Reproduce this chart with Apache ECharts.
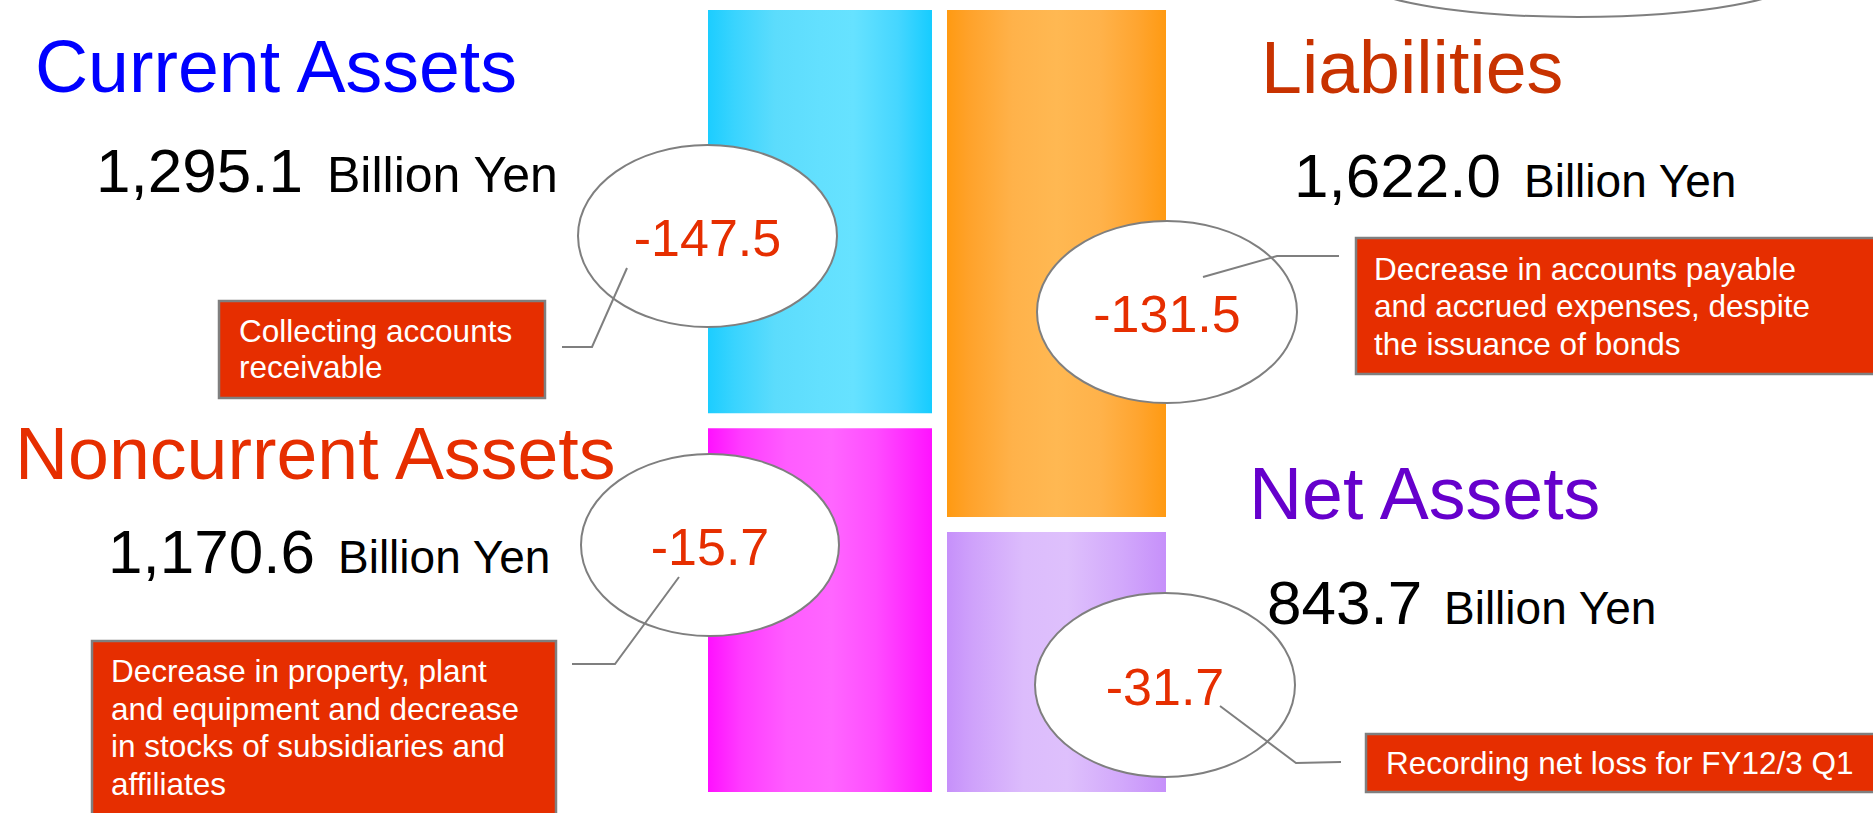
<!DOCTYPE html>
<html>
<head>
<meta charset="utf-8">
<script src="https://cdn.jsdelivr.net/npm/echarts@6/dist/echarts.min.js"></script>
<style>
html,body{margin:0;padding:0;background:#ffffff;}
#chart{width:1873px;height:813px;}
</style>
</head>
<body>
<div id="chart"></div>
<script>
// ---------------- DATA ----------------
const categories = ['Assets', 'Liabilities and Net Assets'];
const itemNames = ['Current Assets', 'Noncurrent Assets', 'Liabilities', 'Net Assets'];
const itemColumn = [0, 0, 1, 1];            // which column each item belongs to (top item first)
const amounts = [1295.1, 1170.6, 1622.0, 843.7];   // Billion Yen
const changes = [-147.5, -15.7, -131.5, -31.7];
const unitLabel = 'Billion Yen';
const notes = [
  'Collecting accounts\nreceivable',
  'Decrease in property, plant\nand equipment and decrease\nin stocks of subsidiaries and\naffiliates',
  'Decrease in accounts payable\nand accrued expenses, despite\nthe issuance of bonds',
  'Recording net loss for FY12/3 Q1'
];

// ---------------- STYLE ----------------
const FONT = "'Liberation Sans', Arial, Helvetica, sans-serif";
const GAP = 15;
const BAR_W = [224, 219];
const titleColors = ['#0000ff', '#e62e00', '#c83200', '#6600cc'];
const barStops = [
  [[0,'#1ccdff'],[0.12,'#3ad4fe'],[0.3,'#5cdcfc'],[0.5,'#63e0fe'],[0.65,'#66e2ff'],[0.85,'#45d6ff'],[1,'#16ccff']],
  [[0,'#ff10ff'],[0.15,'#ff3cff'],[0.35,'#ff5cff'],[0.55,'#ff66ff'],[0.75,'#ff4cff'],[1,'#ff12ff']],
  [[0,'#ff9a12'],[0.1,'#ffa22a'],[0.3,'#ffb24a'],[0.5,'#ffb852'],[0.7,'#ffb24a'],[0.87,'#ffa530'],[1,'#ff9a12']],
  [[0,'#c690fa'],[0.12,'#cfa2fb'],[0.35,'#dcbcfc'],[0.55,'#dec0fc'],[0.8,'#d2a8fb'],[1,'#c690fa']]
];

// build stacked segments (bottom-up) from the arrays
const colTotals = categories.map((c, ci) =>
  amounts.reduce((s, v, i) => s + (itemColumn[i] === ci ? v : 0), 0));
const segData = [];
categories.forEach((c, ci) => {
  let acc = 0;
  for (let i = amounts.length - 1; i >= 0; i--) {
    if (itemColumn[i] !== ci) continue;
    segData.push({ name: itemNames[i], value: [ci, acc, acc + amounts[i], i] });
    acc += amounts[i];
  }
});

const fmtAmount = v => v.toLocaleString('en-US', {minimumFractionDigits: 1, maximumFractionDigits: 1});
const fmtChange = v => v.toFixed(1);

// ---------------- ANNOTATION LAYOUT (pixels) ----------------
const layout = [
  { title:[35,92], num:[96,192], unit:[327,192], unitSize:50,
    ell:[707.5,236,129.5,91], line:[[627,268],[592,347],[562,347]],
    box:[219,301,326,97], note:[239,313], noteLH:36 },
  { title:[15,479], num:[108,573], unit:[338,573], unitSize:46,
    ell:[710,545,129,91], line:[[679,577],[615,664],[572,664]],
    box:[92,641,464,200], note:[111,652], noteLH:37.7 },
  { title:[1261,93], num:[1294,197], unit:[1524,197], unitSize:46,
    ell:[1167,312,130,91], line:[[1203,277],[1277,256],[1339,256]],
    box:[1356,238,530,136], note:[1374,250], noteLH:37.5 },
  { title:[1249,519], num:[1267,624], unit:[1444,624], unitSize:46,
    ell:[1165,685,130,92], line:[[1220,706],[1296,763],[1341,762]],
    box:[1366,734,520,58], note:[1386,744.5], noteLH:37.5 }
];

const graphics = [];
// partial ellipse at top right
graphics.push({ type:'ellipse', z:100, shape:{cx:1578, cy:-23, rx:220, ry:40},
  style:{fill:'#ffffff', stroke:'#7f7f7f', lineWidth:2} });

const mid = (baseline, size) => baseline - 0.35 * size;

itemNames.forEach((name, i) => {
  const L = layout[i];
  graphics.push({ type:'ellipse', z:100,
    shape:{cx:L.ell[0], cy:L.ell[1], rx:L.ell[2], ry:L.ell[3]},
    style:{fill:'#ffffff', stroke:'#7f7f7f', lineWidth:2} });
  graphics.push({ type:'text', z:110, x:L.ell[0], y:L.ell[1] + 2,
    style:{text: fmtChange(changes[i]), fontSize:52, fontFamily:FONT, fill:'#e62e00',
      align:'center', verticalAlign:'middle'} });
  graphics.push({ type:'polyline', z:105, shape:{points:L.line},
    style:{fill:null, stroke:'#7f7f7f', lineWidth:2} });
  graphics.push({ type:'rect', z:106, shape:{x:L.box[0], y:L.box[1], width:L.box[2], height:L.box[3]},
    style:{fill:'#e62e00', stroke:'#7f7f7f', lineWidth:2.5} });
  graphics.push({ type:'text', z:111, x:L.note[0], y:L.note[1],
    style:{text: notes[i], fontSize:31.5, lineHeight:L.noteLH, fontFamily:FONT, fill:'#ffffff',
      align:'left', verticalAlign:'top'} });
  graphics.push({ type:'text', z:112, x:L.title[0], y:mid(L.title[1], 73.5),
    style:{text: name, fontSize:73.5, fontFamily:FONT, fill:titleColors[i],
      align:'left', verticalAlign:'middle'} });
  graphics.push({ type:'text', z:112, x:L.num[0], y:mid(L.num[1], 62),
    style:{text: fmtAmount(amounts[i]), fontSize:62, fontFamily:FONT, fill:'#000000',
      align:'left', verticalAlign:'middle'} });
  graphics.push({ type:'text', z:112, x:L.unit[0], y:mid(L.unit[1], L.unitSize),
    style:{text: unitLabel, fontSize:L.unitSize, fontFamily:FONT, fill:'#000000',
      align:'left', verticalAlign:'middle'} });
});

const chart = echarts.init(document.getElementById('chart'), null, {renderer:'svg', width:1873, height:813});
chart.setOption({
  animation: false,
  backgroundColor: '#ffffff',
  grid: { left: 701.75, width: 473, top: 10, height: 782 },
  xAxis: { type:'category', data: categories, show:false },
  yAxis: { type:'value', min:0, max: Math.max(...colTotals), show:false },
  series: [{
    type: 'custom',
    name: 'Balance Sheet',
    data: segData,
    encode: { x: 0, y: [1, 2] },
    renderItem: function (params, api) {
      const ci = api.value(0), lo = api.value(1), hi = api.value(2), idx = api.value(3);
      const pTop = api.coord([ci, hi]);
      const pBot = api.coord([ci, lo]);
      const bw = BAR_W[ci];
      let top = pTop[1], bottom = pBot[1];
      if (hi < colTotals[ci] - 1e-6) top += GAP / 2;
      if (lo > 1e-6) bottom -= GAP / 2;
      return {
        type: 'rect',
        shape: { x: pTop[0] - bw / 2, y: top, width: bw, height: bottom - top },
        style: {
          fill: { type:'linear', x:0, y:0, x2:1, y2:0,
            colorStops: barStops[idx].map(s => ({offset:s[0], color:s[1]})) }
        }
      };
    }
  }],
  graphic: { elements: graphics }
});
</script>
</body>
</html>
